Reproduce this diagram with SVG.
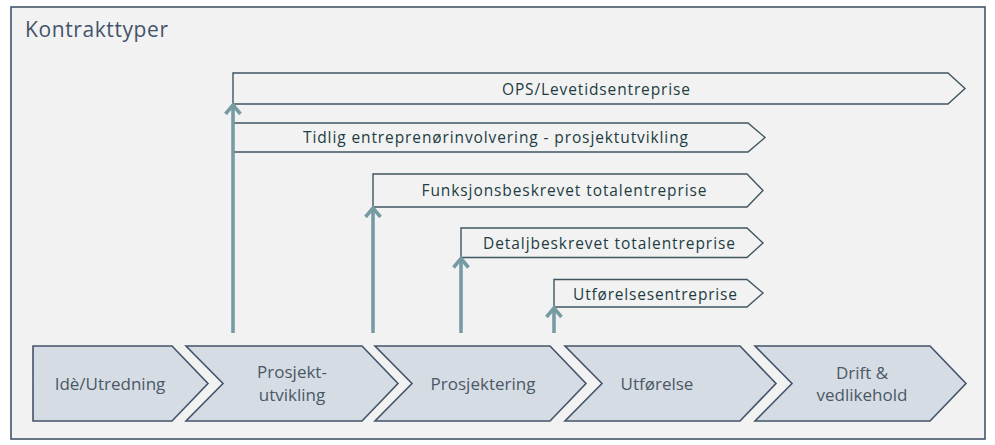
<svg xmlns="http://www.w3.org/2000/svg" width="995" height="445" viewBox="0 0 995 445">
<defs>
<style>
.frame{fill:#f2f2f2;stroke:#44546a;stroke-width:1.6}
.title{font-family:"Open Sans","Liberation Sans",sans-serif;font-size:21px;fill:#44546a}
.bar{fill:#f2f2f2;stroke:#3f5661;stroke-width:1.4}
.bt{font-family:"Open Sans","Liberation Sans",sans-serif;font-size:15.5px;fill:#1d3d42;text-anchor:middle}
.chev{fill:#d6dce4;stroke:#44546a;stroke-width:1.6}
.ct{font-family:"Open Sans","Liberation Sans",sans-serif;font-size:17px;fill:#4a5866;text-anchor:middle}
.arr{fill:none;stroke:#779ba2;stroke-width:3.6}
</style>
<marker id="ah" markerUnits="userSpaceOnUse" markerWidth="20" markerHeight="20" viewBox="-10 -10 20 20" refX="0" refY="0" orient="auto">
<path d="M-9,-7.5 L0,0 L-9,7.5" fill="none" stroke="#779ba2" stroke-width="3.6" stroke-linecap="butt"/>
</marker>
</defs>
<rect class="frame" x="11" y="7" width="974" height="432"/>
<text class="title" x="25" y="37" textLength="143" lengthAdjust="spacing">Kontrakttyper</text>

<g id="ops">
<polygon class="bar" points="233,73 948,73 965,88.5 948,104 233,104"/>
<text class="bt" x="596" y="95" textLength="188" lengthAdjust="spacing">OPS/Levetidsentreprise</text>
</g>
<g id="tidlig">
<polygon class="bar" points="233,123 748,123 765,137.5 748,152 233,152"/>
<text class="bt" x="495.5" y="143" textLength="385" lengthAdjust="spacing">Tidlig entreprenørinvolvering  - prosjektutvikling</text>
</g>
<g id="funksjon">
<polygon class="bar" points="373,174 747,174 763,190.5 747,207 373,207"/>
<text class="bt" x="564" y="196" textLength="285" lengthAdjust="spacing">Funksjonsbeskrevet totalentreprise</text>
</g>
<g id="detalj">
<polygon class="bar" points="461,228 747,228 763,243 747,257.5 461,257.5"/>
<text class="bt" x="609" y="249" textLength="252" lengthAdjust="spacing">Detaljbeskrevet totalentreprise</text>
</g>
<g id="utforelsesentreprise">
<polygon class="bar" points="554,279.5 747,279.5 763,293 747,307 554,307"/>
<text class="bt" x="655" y="300" textLength="164" lengthAdjust="spacing">Utførelsesentreprise</text>
</g>

<g id="connectors">
<path class="arr" d="M233,333 V105" marker-end="url(#ah)"/>
<path class="arr" d="M373,333 V208" marker-end="url(#ah)"/>
<path class="arr" d="M461,333 V258.5" marker-end="url(#ah)"/>
<path class="arr" d="M554,333 V308" marker-end="url(#ah)"/>
</g>

<g id="ide">
<polygon class="chev" points="33,346 172,346 208,383.5 172,421 33,421"/>
<text class="ct" x="110" y="390">Idè/Utredning</text>
</g>
<g id="prosjektutvikling">
<polygon class="chev" points="186,346 362,346 398,383.5 362,421 186,421 223,383.5"/>
<text class="ct" x="292" y="378">Prosjekt-</text>
<text class="ct" x="292" y="401">utvikling</text>
</g>
<g id="prosjektering">
<polygon class="chev" points="375,346 550,346 586,383.5 550,421 375,421 412,383.5"/>
<text class="ct" x="483" y="390">Prosjektering</text>
</g>
<g id="utforelse">
<polygon class="chev" points="565,346 740,346 776,383.5 740,421 565,421 602,383.5"/>
<text class="ct" x="657" y="390">Utførelse</text>
</g>
<g id="drift">
<polygon class="chev" points="755,346 930,346 966,383.5 930,421 755,421 792,383.5"/>
<text class="ct" x="862" y="379">Drift &amp;</text>
<text class="ct" x="862" y="401">vedlikehold</text>
</g>
</svg>
